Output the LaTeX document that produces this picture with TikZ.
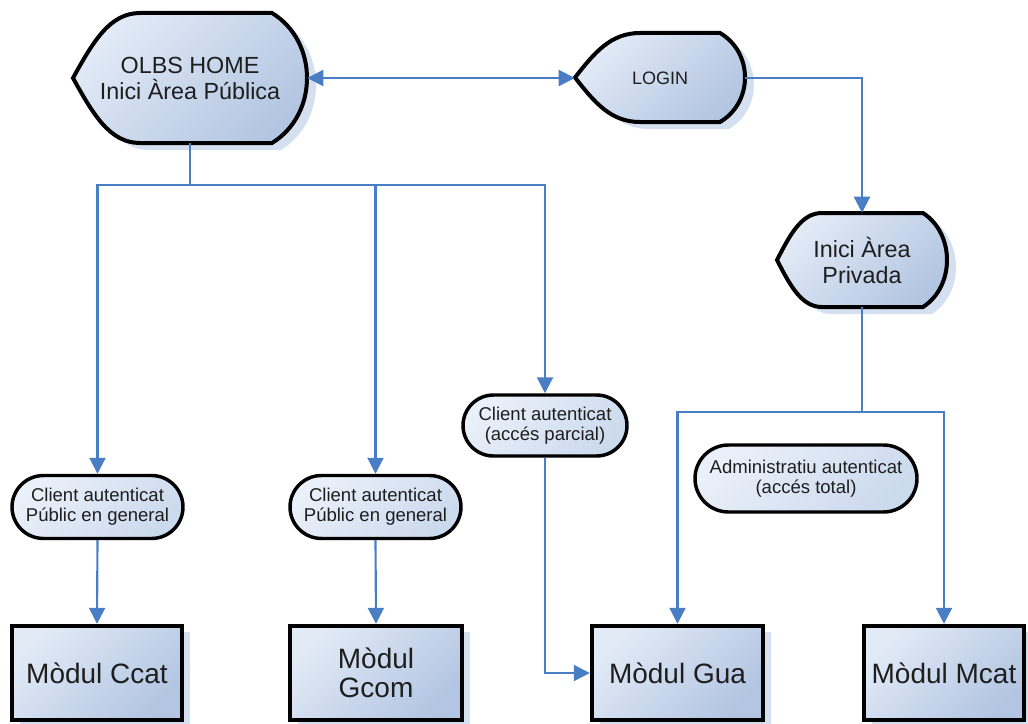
\documentclass[tikz,border=0pt]{standalone}
\usepackage{fontspec}
\setmainfont{Liberation Sans}
\usetikzlibrary{arrows.meta,shapes.misc,shadows}

\definecolor{flowblue}{RGB}{74,126,196}
\definecolor{fillhi}{RGB}{226,234,246}
\definecolor{filllo}{RGB}{178,197,226}
\definecolor{termhi}{RGB}{234,240,249}
\definecolor{termlo}{RGB}{204,218,238}
\definecolor{shadowblue}{RGB}{212,223,240}
\definecolor{inkgray}{RGB}{30,30,30}

\tikzset{
  flowline/.style={draw=flowblue, line width=1.6pt},
  flowarrow/.style={flowline, -{Triangle[length=12pt,width=12pt]}},
  dispfill/.style={draw=black, line width=3pt, top color=fillhi, bottom color=filllo, shading angle=45},
  shadowfill/.style={fill=shadowblue},
  disptext/.style={inner sep=0pt, text=inkgray, align=center, font=\fontsize{17.5}{19.5}\selectfont},
  termbox/.style={rounded rectangle, draw=black, line width=2.6pt, top color=termhi, bottom color=termlo, shading angle=45,
    inner sep=0pt, text=inkgray, align=center, font=\fontsize{13.9}{15.2}\selectfont},
  modbox/.style={rectangle, draw=black, line width=3.3pt, top color=fillhi, bottom color=filllo, shading angle=45,
    minimum height=94*0.75pt, inner sep=0pt, text=inkgray, align=center, font=\fontsize{21}{21.5}\selectfont,
    general shadow={fill=shadowblue, shadow xshift=6pt, shadow yshift=-4.5pt}}
}

% display shape: left point, flat start, flat end, bulge, top, bottom
\newcommand{\dispshape}[6]{%
  \foreach \sx/\sy/\sty in {9/7/shadowfill, 0/0/dispfill}{
    \path[\sty, shift={(\sx,\sy)}] (#2,#5) -- (#3,#5)
      .. controls ({#3+(#4-#3)/0.75},{#5+0.22*(#6-#5)}) and ({#3+(#4-#3)/0.75},{#6-0.22*(#6-#5)}) .. (#3,#6)
      -- (#2,#6)
      .. controls ({#2-0.45*(#2-#1)},#6) and ({#1+0.3*(#2-#1)},{(#5+#6)/2+0.28*(#6-#5)}) .. (#1,{(#5+#6)/2})
      .. controls ({#1+0.3*(#2-#1)},{(#5+#6)/2-0.28*(#6-#5)}) and ({#2-0.45*(#2-#1)},#5) .. (#2,#5) -- cycle;
  }
}

\begin{document}
\begin{tikzpicture}[x=0.75pt,y=0.75pt,yscale=-1,xscale=1]
\useasboundingbox (0,0) rectangle (1028,724);

%Display shapes
\dispshape{73}{140}{272}{307}{13}{143}
\dispshape{575}{640}{720}{745}{33}{122}
\dispshape{777}{822}{923}{947}{213}{307}

% Text nodes on display shapes
\node[disptext, minimum width=234*0.75pt, minimum height=130*0.75pt] (olbs) at (190,78) {OLBS HOME\\Inici Àrea Pública};
\node[disptext, font=\fontsize{13.5}{15}\selectfont, minimum width=170*0.75pt, minimum height=89*0.75pt] (login) at (660,78) {LOGIN};
\node[disptext, minimum width=170*0.75pt, minimum height=94*0.75pt] (privada) at (862,260) {Inici Àrea\\Privada};

% Terminators
\node[termbox, minimum width=171*0.75pt, minimum height=63*0.75pt] (c1) at (97.5,507) {Client autenticat\\Públic en general};
\node[termbox, minimum width=171*0.75pt, minimum height=63*0.75pt] (c2) at (375.5,507) {Client autenticat\\Públic en general};
\node[termbox, minimum width=164*0.75pt, minimum height=61*0.75pt] (c3) at (545,425.5) {Client autenticat\\(accés parcial)};
\node[termbox, minimum width=222*0.75pt, minimum height=67*0.75pt] (adm) at (806,478.5) {Administratiu autenticat\\(accés total)};

% Modules
\node[modbox, minimum width=170*0.75pt] (ccat) at (97,673) {Mòdul Ccat};
\node[modbox, minimum width=172*0.75pt] (gcom) at (376,673) {Mòdul\\Gcom};
\node[modbox, minimum width=171*0.75pt] (gua) at (677.5,673) {Mòdul Gua};
\node[modbox, minimum width=160*0.75pt] (mcat) at (944,673) {Mòdul Mcat};

% Connectors
\draw[flowline, {Triangle[length=12pt,width=12pt]}-{Triangle[length=12pt,width=12pt]}] (olbs.east) -- (login.west);
\draw[flowarrow] (login.east) -| (privada.north);

\coordinate (bus) at (190,185);
\draw[flowline] (olbs.south) -- (bus);
\draw[flowarrow] (bus) -| (c1.north);
\draw[flowarrow] (bus) -| (c2.north);
\draw[flowarrow] (bus) -| (c3.north);

\draw[flowarrow] (c1.south) -- (ccat.north);
\draw[flowarrow] (c2.south) -- (gcom.north);
\draw[flowarrow] (c3.south) |- (gua.west);

\coordinate (split) at (862,412);
\draw[flowline] (privada.south) -- (split);
\draw[flowarrow] (split) -| (gua.north);
\draw[flowarrow] (split) -| (mcat.north);

\end{tikzpicture}
\end{document}
